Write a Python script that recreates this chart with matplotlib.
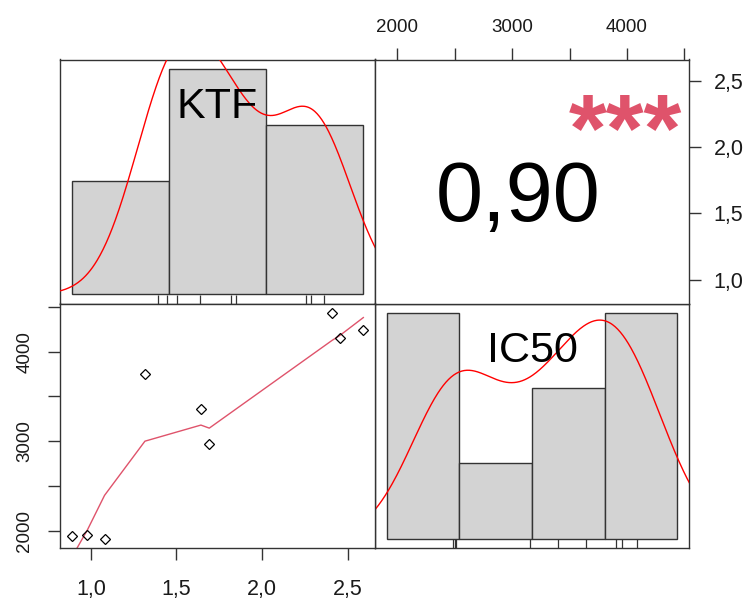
import numpy as np
import matplotlib
matplotlib.use("Agg")
import matplotlib.pyplot as plt
from matplotlib.transforms import blended_transform_factory

plt.rcParams['font.family'] = ['Liberation Sans', 'DejaVu Sans']

# ---------------- data ----------------
var_names = ["KTF", "IC50"]
ktf = [0.888, 0.980, 1.080, 1.316, 1.643, 1.692, 2.408, 2.457, 2.592]
ic50 = [1940, 1955, 1907, 3746, 3360, 2966, 4438, 4157, 4243]
# lowess smooth of IC50 on KTF (values at each KTF point)
smooth_ic50 = [1700, 2008, 2394, 3000, 3180, 3146, 4125, 4185, 4382]
ktf_breaks = [0, 1, 2, 3]
ic50_breaks = [1000, 2000, 3000, 4000, 5000]
cor_text = "0,90"
signif_text = "***"
ktf_ticks = [1.0, 1.5, 2.0, 2.5]
ktf_ticklabels = ["1,0", "1,5", "2,0", "2,5"]
ic50_ticks = [2000, 2500, 3000, 3500, 4000, 4500]
ic50_ticklabels = ["2000", "", "3000", "", "4000", ""]

# ---------------- style ----------------
EDGE = "#333333"
HIST_FILL = "#D3D3D3"
RED = "#FF0000"
R2 = "#DF536B"

fig = plt.figure(figsize=(7.56, 6.01), dpi=100)

x0, xm, x1 = 60 / 756, 375 / 756, 689 / 756
y1, ym, y0 = 1 - 59.5 / 601, 1 - 303.5 / 601, 1 - 548 / 601


def rlim(v):
    v = np.asarray(v, float)
    lo, hi = v.min(), v.max()
    p = 0.04 * (hi - lo)
    return lo - p, hi + p


def style(ax):
    for s in ax.spines.values():
        s.set_color(EDGE)
        s.set_linewidth(1.0)
    ax.tick_params(direction="out", length=8.6, width=1.0, color=EDGE,
                   labelcolor="#1a1a1a")
    ax.set_xticks([])
    ax.set_yticks([])


def kde(v, npts=512):
    v = np.asarray(v, float)
    n = len(v)
    sd = v.std(ddof=1)
    q75, q25 = np.percentile(v, [75, 25])
    bw = 0.9 * min(sd, (q75 - q25) / 1.34) * n ** -0.2
    g = np.linspace(v.min() - 3 * bw, v.max() + 3 * bw, npts)
    d = np.exp(-0.5 * ((g[:, None] - v[None, :]) / bw) ** 2).sum(1) / (n * bw * np.sqrt(2 * np.pi))
    return g, d


def hist_panel(ax, v, breaks, label):
    style(ax)
    counts, _ = np.histogram(v, bins=breaks)
    dens = counts / (len(v) * np.diff(breaks))
    ax.set_xlim(rlim(breaks))
    ax.set_ylim(rlim([0, dens.max()]))
    ax.bar(breaks[:-1], dens, width=np.diff(breaks), align="edge",
           color=HIST_FILL, edgecolor=EDGE, linewidth=1.0, zorder=2)
    g, d = kde(v)
    ax.plot(g, d, color=RED, lw=1.0, zorder=3)
    tr = blended_transform_factory(ax.transData, ax.transAxes)
    ax.vlines(v, 0, 0.035, transform=tr, color=EDGE, lw=0.9, zorder=4)
    ax.text(0.5, 0.76, label, transform=ax.transAxes, ha="center", va="baseline",
            fontsize=31, color="black", zorder=5)


# top-left: KTF histogram
ax_tl = fig.add_axes([x0, ym, xm - x0, y1 - ym])
hist_panel(ax_tl, ktf, ktf_breaks, var_names[0])

# bottom-right: IC50 histogram
ax_br = fig.add_axes([xm, y0, x1 - xm, ym - y0])
hist_panel(ax_br, ic50, ic50_breaks, var_names[1])

# top-right: correlation
ax_tr = fig.add_axes([xm, ym, x1 - xm, y1 - ym])
style(ax_tr)
ax_tr.set_xlim(rlim(ic50))
ax_tr.set_ylim(rlim(ktf))
ax_tr.xaxis.tick_top()
ax_tr.set_xticks(ic50_ticks)
ax_tr.set_xticklabels(ic50_ticklabels)
ax_tr.tick_params(axis="x", pad=8, labelsize=13.5)
ax_tr.yaxis.tick_right()
ax_tr.set_yticks(ktf_ticks)
ax_tr.set_yticklabels(ktf_ticklabels)
ax_tr.tick_params(axis="y", pad=9, labelsize=15.5)
ax_tr.text(0.457, 0.339, cor_text, transform=ax_tr.transAxes, ha="center",
           va="baseline", fontsize=61, color="black")
ax_tr.text(0.796, 0.583, signif_text, transform=ax_tr.transAxes, ha="center",
           va="baseline", fontsize=70, fontweight="bold", color=R2)

# bottom-left: scatter with smooth
ax_bl = fig.add_axes([x0, y0, xm - x0, ym - y0])
style(ax_bl)
ax_bl.set_xlim(rlim(ktf))
ax_bl.set_ylim(rlim(ic50))
ax_bl.plot(ktf, ic50, linestyle="none", marker="D", markersize=5.2,
           markerfacecolor="none", markeredgecolor="black", markeredgewidth=0.9, zorder=3)
order = np.argsort(ktf)
ax_bl.plot(np.asarray(ktf)[order], np.asarray(smooth_ic50)[order], color=R2, lw=1.0, zorder=2)
ax_bl.set_xticks(ktf_ticks)
ax_bl.set_xticklabels(ktf_ticklabels)
ax_bl.tick_params(axis="x", pad=13.5, labelsize=15.5)
ax_bl.set_yticks(ic50_ticks)
ax_bl.set_yticklabels(ic50_ticklabels, rotation=90, va="center")
ax_bl.tick_params(axis="y", pad=10.5, labelsize=13.5)

fig.savefig("out.png", dpi=100)
